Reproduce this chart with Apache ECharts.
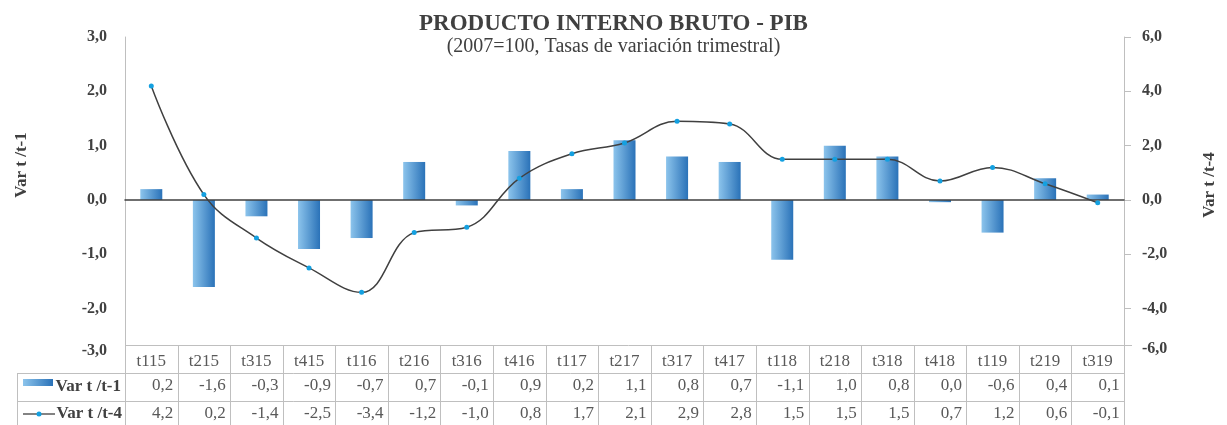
<!DOCTYPE html>
<html><head><meta charset="utf-8">
<script src="https://cdn.jsdelivr.net/npm/echarts@6/dist/echarts.min.js"></script>
<style>html,body{margin:0;padding:0;background:#fff}#c{width:1227px;height:425px}</style>
</head><body><div id="c"></div>
<script>
var categories = ['t115','t215','t315','t415','t116','t216','t316','t416','t117','t217','t317','t417','t118','t218','t318','t418','t119','t219','t319'];
var varT1 = [0.2,-1.6,-0.3,-0.9,-0.7,0.7,-0.1,0.9,0.2,1.1,0.8,0.7,-1.1,1.0,0.8,-0.04,-0.6,0.4,0.1];
var varT4 = [4.2,0.2,-1.4,-2.5,-3.4,-1.2,-1.0,0.8,1.7,2.1,2.9,2.8,1.5,1.5,1.5,0.7,1.2,0.6,-0.1];
var seriesNames = ['Var t /t-1','Var t /t-4'];
var titleText = 'PRODUCTO INTERNO BRUTO - PIB';
var subtitleText = '(2007=100, Tasas de variación trimestral)';

var FONT = '"Liberation Serif", "DejaVu Serif", serif';
var L = 125, R = 1124, T = 37, B = 363;
var n = categories.length, cw = (R - L) / n;
function fmt(v){ return (Math.round(v*10)/10).toFixed(1).replace('.', ','); }

var chart = echarts.init(document.getElementById('c'));
var graphics = [];
var lineStyle = {stroke:'#bfbfbf', lineWidth:1};
// masks: above table header inside plot, and the right axis end below the table top
graphics.push({type:'rect', z:100, shape:{x:L+1, y:346, width:R-L-2, height:17}, style:{fill:'#fff'}, silent:true});
graphics.push({type:'rect', z:100, shape:{x:R+1, y:352, width:12, height:18}, style:{fill:'#fff'}, silent:true});
// table lines
function tl(x1,y1,x2,y2,st){ graphics.push({type:'line', z:101, shape:{x1:x1,y1:y1,x2:x2,y2:y2}, style:st||lineStyle, silent:true}); }
tl(L, 345.5, R+8, 345.5);
tl(17, 373.5, R, 373.5);
tl(17, 401.5, R, 401.5);
tl(17.5, 373, 17.5, 425);
tl(L+0.5, 345, L+0.5, 425);
tl(R+0.5, 345, R+0.5, 425);
for (var k = 1; k < n; k++) {
  var x = Math.round(L + k*cw) + 0.5;
  tl(x, 345, x, 425);
}
// legend keys
graphics.push({type:'rect', z:101, shape:{x:23, y:379, width:30, height:7},
  style:{fill:new echarts.graphic.LinearGradient(0,0,1,0,[{offset:0,color:'#8cc4ec'},{offset:1,color:'#2a72b8'}])}, silent:true});
tl(23, 414, 55, 414, {stroke:'#404040', lineWidth:1.3});
graphics.push({type:'circle', z:102, shape:{cx:39, cy:414, r:2.5}, style:{fill:'#14a0e0'}, silent:true});
graphics.push({type:'text', z:101, x:121, y:387, style:{text:seriesNames[0], font:'bold 17px '+FONT, fill:'#404040', textAlign:'right', textVerticalAlign:'middle'}, silent:true});
graphics.push({type:'text', z:101, x:122, y:414, style:{text:seriesNames[1], font:'bold 17px '+FONT, fill:'#404040', textAlign:'right', textVerticalAlign:'middle'}, silent:true});
// axis names
graphics.push({type:'text', x:22, y:165, rotation:Math.PI/2, style:{text:seriesNames[0], font:'bold 17px '+FONT, fill:'#404040', textAlign:'center', textVerticalAlign:'middle'}, silent:true});
graphics.push({type:'text', x:1210, y:185, rotation:Math.PI/2, style:{text:seriesNames[1], font:'bold 17px '+FONT, fill:'#404040', textAlign:'center', textVerticalAlign:'middle'}, silent:true});
// min labels (shown at the table top)
graphics.push({type:'text', z:101, x:107, y:351, style:{text:fmt(-3), font:'bold 16px '+FONT, fill:'#404040', textAlign:'right', textVerticalAlign:'middle'}, silent:true});
graphics.push({type:'text', z:101, x:1142, y:349, style:{text:fmt(-6), font:'bold 16px '+FONT, fill:'#404040', textAlign:'left', textVerticalAlign:'middle'}, silent:true});

function rowAxis(data, offset, rightAlign){
  return {
    type:'category', gridIndex:0, data:data, position:'bottom', offset:offset, z:110,
    axisLine:{show:false, onZero:false}, axisTick:{show:false}, splitLine:{show:false},
    axisLabel:{interval:0, margin:0, verticalAlign:'middle', color:'#595959', fontFamily:FONT, fontSize:17,
      formatter: rightAlign ? function(v){ return '{v|' + v + '}'; } : null,
      rich: rightAlign ? {v:{width:44, align:'right', fontFamily:FONT, fontSize:17, color:'#595959'}} : undefined
    }
  };
}

chart.setOption({
  animation:false,
  backgroundColor:'#fff',
  title:{text:titleText, subtext:subtitleText, left:'center', top:7, itemGap:1,
    textStyle:{fontFamily:FONT, fontWeight:'bold', fontSize:23, color:'#404040', lineHeight:24},
    subtextStyle:{fontFamily:FONT, fontSize:20, color:'#404040', lineHeight:20}},
  grid:{left:L, right:1227-R, top:T, bottom:425-B},
  xAxis:[
    {type:'category', data:categories, axisLine:{onZero:true, lineStyle:{color:'#404040', width:1.5}},
     axisTick:{show:false}, axisLabel:{show:false}, splitLine:{show:false}, z:5},
    rowAxis(categories, -1, false),
    rowAxis(varT1.map(fmt), 23, true),
    rowAxis(varT4.map(fmt), 51, true)
  ],
  yAxis:[
    {type:'value', min:-3, max:3, interval:1, position:'left',
     axisLine:{show:true, lineStyle:{color:'#bfbfbf'}}, axisTick:{show:false}, splitLine:{show:false},
     axisLabel:{margin:18, color:'#404040', fontFamily:FONT, fontWeight:'bold', fontSize:16,
       formatter:function(v){ return v <= -3 ? '' : fmt(v); }}},
    {type:'value', min:-6, max:6, interval:2, position:'right',
     axisLine:{show:true, lineStyle:{color:'#bfbfbf'}}, axisTick:{show:true, length:7, lineStyle:{color:'#bfbfbf'}}, splitLine:{show:false},
     axisLabel:{margin:18, color:'#404040', fontFamily:FONT, fontWeight:'bold', fontSize:16,
       formatter:function(v){ return v <= -6 ? '' : fmt(v); }}}
  ],
  series:[
    {name:seriesNames[0], type:'bar', data:varT1, xAxisIndex:0, yAxisIndex:0, barWidth:22, z:2,
     itemStyle:{color:new echarts.graphic.LinearGradient(0,0,1,0,[{offset:0,color:'#8cc4ec'},{offset:1,color:'#2a72b8'}])}},
    {name:seriesNames[1], type:'line', data:varT4, xAxisIndex:0, yAxisIndex:1, smooth:0.4, z:6,
     symbol:'circle', symbolSize:5, itemStyle:{color:'#14a0e0'},
     lineStyle:{color:'#404040', width:1.5}}
  ],
  graphic:graphics
});
</script></body></html>
